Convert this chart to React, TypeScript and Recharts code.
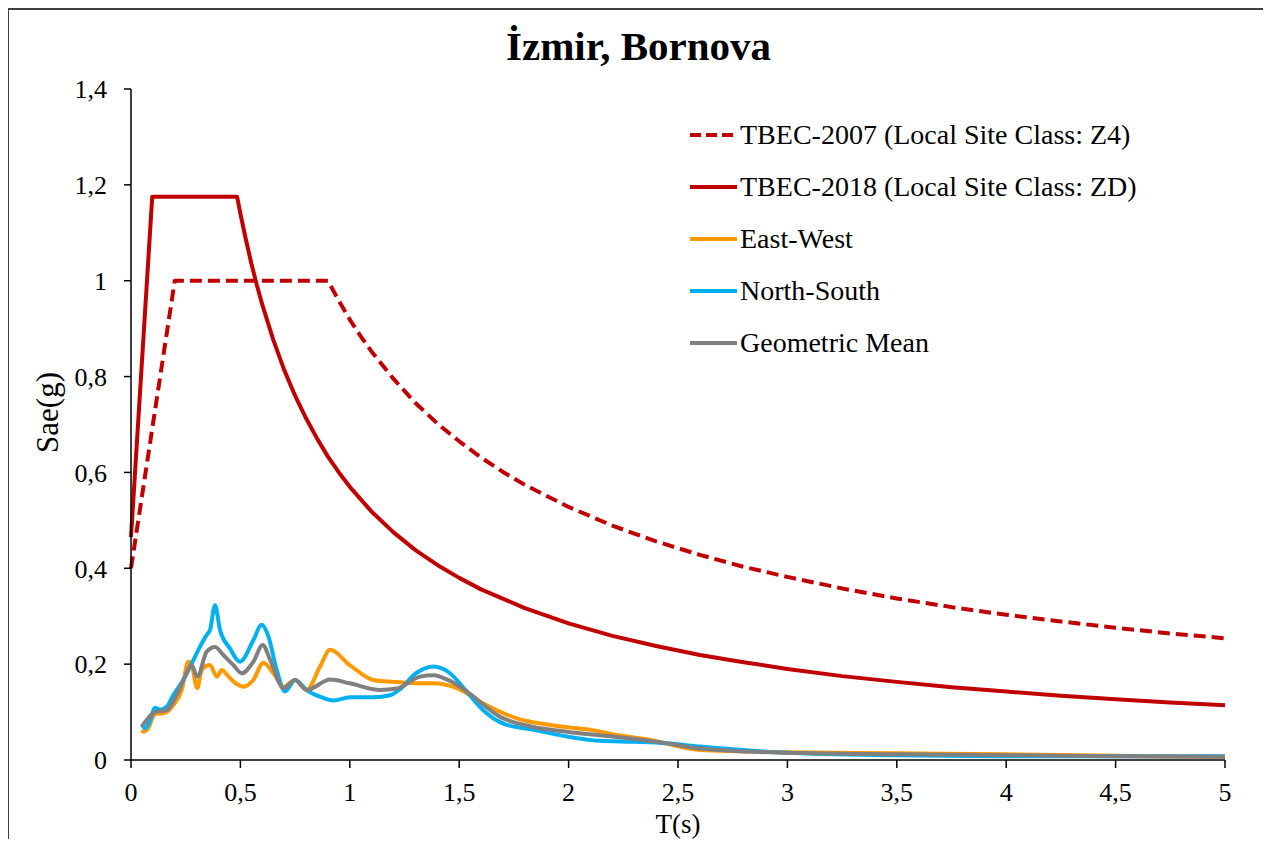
import { LineChart, Line, XAxis, YAxis, Legend } from "recharts";

const FONT = '"Liberation Serif", "Times New Roman", serif';

// tick values
const xTicks = [0, 0.5, 1, 1.5, 2, 2.5, 3, 3.5, 4, 4.5, 5];
const yTicks = [0, 0.2, 0.4, 0.6, 0.8, 1, 1.2, 1.4];

// TBEC-2007, local site class Z4 (design spectrum)
const tbec2007T = [0, 0.2, 0.9, 0.95, 1.0, 1.05, 1.1, 1.2, 1.3, 1.4, 1.5, 1.6, 1.7, 1.8, 2.0, 2.2, 2.4, 2.6, 2.8, 3.0, 3.25, 3.5, 3.75, 4.0, 4.25, 4.5, 4.75, 5];
const tbec2007Sae = [0.4, 1.0, 1.0, 0.958, 0.919, 0.884, 0.852, 0.795, 0.745, 0.702, 0.665, 0.631, 0.601, 0.574, 0.528, 0.489, 0.456, 0.428, 0.403, 0.382, 0.358, 0.337, 0.319, 0.303, 0.289, 0.276, 0.264, 0.254];

// TBEC-2018, local site class ZD (design spectrum)
const tbec2018T = [0, 0.097, 0.485, 0.5, 0.525, 0.55, 0.575, 0.6, 0.65, 0.7, 0.75, 0.8, 0.85, 0.9, 0.95, 1.0, 1.1, 1.2, 1.3, 1.4, 1.5, 1.6, 1.8, 2.0, 2.2, 2.4, 2.6, 2.8, 3.0, 3.25, 3.5, 3.75, 4.0, 4.25, 4.5, 4.75, 5];
const tbec2018Sae = [0.465, 1.175, 1.175, 1.14, 1.086, 1.036, 0.991, 0.95, 0.877, 0.814, 0.76, 0.713, 0.671, 0.633, 0.6, 0.57, 0.518, 0.475, 0.438, 0.407, 0.38, 0.356, 0.317, 0.285, 0.259, 0.238, 0.219, 0.204, 0.19, 0.175, 0.163, 0.152, 0.143, 0.134, 0.127, 0.12, 0.114];

// recorded spectra
const ewT = [0.05, 0.056, 0.079, 0.1, 0.117, 0.14, 0.163, 0.194, 0.232, 0.262, 0.277, 0.303, 0.323, 0.361, 0.392, 0.415, 0.438, 0.468, 0.513, 0.559, 0.605, 0.651, 0.697, 0.75, 0.803, 0.864, 0.91, 1.0, 1.107, 1.199, 1.321, 1.382, 1.489, 1.61, 1.763, 1.915, 2.098, 2.22, 2.372, 2.6, 3, 3.5, 4, 4.5, 5];
const ewSae = [0.062, 0.059, 0.066, 0.09, 0.097, 0.097, 0.1, 0.115, 0.146, 0.205, 0.198, 0.15, 0.188, 0.198, 0.174, 0.188, 0.178, 0.164, 0.153, 0.167, 0.203, 0.181, 0.153, 0.167, 0.146, 0.195, 0.23, 0.198, 0.167, 0.163, 0.16, 0.16, 0.15, 0.118, 0.087, 0.073, 0.063, 0.052, 0.042, 0.021, 0.016, 0.014, 0.012, 0.009, 0.006];

const nsT = [0.05, 0.064, 0.085, 0.11, 0.133, 0.163, 0.194, 0.239, 0.277, 0.315, 0.346, 0.361, 0.384, 0.407, 0.452, 0.498, 0.559, 0.597, 0.628, 0.666, 0.704, 0.75, 0.803, 0.864, 0.925, 1.0, 1.107, 1.184, 1.23, 1.3, 1.382, 1.458, 1.534, 1.61, 1.702, 1.839, 1.991, 2.143, 2.3, 2.448, 2.6, 3, 3.5, 4, 4.5, 5];
const nsSae = [0.075, 0.066, 0.08, 0.109, 0.105, 0.111, 0.136, 0.167, 0.201, 0.236, 0.261, 0.271, 0.323, 0.271, 0.233, 0.205, 0.25, 0.282, 0.258, 0.188, 0.143, 0.167, 0.146, 0.132, 0.124, 0.131, 0.131, 0.135, 0.148, 0.18, 0.195, 0.181, 0.143, 0.104, 0.076, 0.063, 0.049, 0.04, 0.038, 0.035, 0.028, 0.015, 0.01, 0.008, 0.008, 0.008];

const gmT = [0.05, 0.11, 0.163, 0.201, 0.247, 0.277, 0.303, 0.346, 0.384, 0.422, 0.468, 0.506, 0.559, 0.602, 0.636, 0.697, 0.75, 0.803, 0.91, 1.0, 1.138, 1.214, 1.321, 1.382, 1.458, 1.534, 1.687, 1.839, 1.991, 2.22, 2.448, 2.6, 3, 3.5, 4, 4.5, 5];
const gmSae = [0.07, 0.1, 0.104, 0.129, 0.174, 0.198, 0.174, 0.226, 0.236, 0.219, 0.198, 0.181, 0.205, 0.24, 0.209, 0.15, 0.167, 0.146, 0.168, 0.16, 0.146, 0.149, 0.174, 0.177, 0.165, 0.143, 0.09, 0.069, 0.059, 0.048, 0.035, 0.024, 0.015, 0.012, 0.01, 0.008, 0.007];

const toPoints = (t: number[], s: number[]) => t.map((T, i) => ({ T, Sae: s[i] }));

const series = [
  { name: "TBEC-2007 (Local Site Class: Z4)", data: toPoints(tbec2007T, tbec2007Sae), color: "#C00000", dash: "12 6", curve: "linear" },
  { name: "TBEC-2018 (Local Site Class: ZD)", data: toPoints(tbec2018T, tbec2018Sae), color: "#C00000", dash: undefined, curve: "linear" },
  { name: "East-West", data: toPoints(ewT, ewSae), color: "#FF9900", dash: undefined, curve: "monotone" },
  { name: "North-South", data: toPoints(nsT, nsSae), color: "#00B0F0", dash: undefined, curve: "monotone" },
  { name: "Geometric Mean", data: toPoints(gmT, gmSae), color: "#808080", dash: undefined, curve: "monotone" },
];

const comma = (v: number) => String(v).replace(".", ",");

function LegendBox() {
  return (
    <div style={{ fontFamily: FONT, fontSize: 28, color: "#000" }}>
      {series.map((s) => (
        <div key={s.name} style={{ height: 52, display: "flex", alignItems: "center" }}>
          <svg width={50} height={10} style={{ marginRight: 1 }}>
            <line x1={1} y1={5} x2={48} y2={5} stroke={s.color} strokeWidth={4} strokeDasharray={s.dash ? "11 5" : undefined} />
          </svg>
          <span style={{ whiteSpace: "nowrap" }}>{s.name}</span>
        </div>
      ))}
    </div>
  );
}

function YTitle(props: any) {
  const vb = props.viewBox;
  const cx = vb.x - 4;
  const cy = vb.y + vb.height / 2 - 12;
  return (
    <text
      x={cx}
      y={cy}
      transform={`rotate(-90 ${cx} ${cy})`}
      textAnchor="middle"
      dominantBaseline="central"
      fontFamily={FONT}
      fontSize={31}
      fill="#000"
    >
      Sae(g)
    </text>
  );
}

export default function App() {
  const tick = { fontSize: 26, fill: "#000", fontFamily: FONT };
  return (
    <div style={{ width: 1263, height: 839, overflow: "hidden", marginLeft: -1, marginBottom: -8 }}>
      <div
        style={{
          position: "relative",
          boxSizing: "border-box",
          width: 1263,
          height: 860,
          border: "2px solid #404040",
          background: "#fff",
        }}
      >
        <div
          style={{
            position: "absolute",
            top: 16,
            left: 0,
            width: "100%",
            textAlign: "center",
            fontFamily: FONT,
            fontWeight: "bold",
            fontSize: 41,
            lineHeight: "41px",
            color: "#000",
          }}
        >
          İzmir, Bornova
        </div>
        <LineChart width={1259} height={850} margin={{ top: 79, right: 43, left: 42, bottom: 10 }}>
          <XAxis
            type="number"
            dataKey="T"
            domain={[0, 5]}
            ticks={xTicks}
            tickFormatter={comma}
            tick={tick}
            tickSize={8}
            tickMargin={15}
            height={90}
            axisLine={{ stroke: "#000", strokeWidth: 1.5 }}
            tickLine={{ stroke: "#000", strokeWidth: 1.5 }}
            allowDuplicatedCategory={false}
            label={{ value: "T(s)", position: "insideBottom", offset: 17, style: { fontSize: 27, fill: "#000", fontFamily: FONT } }}
          />
          <YAxis
            type="number"
            domain={[0, 1.4]}
            ticks={yTicks}
            tickFormatter={comma}
            tick={tick}
            tickSize={7}
            tickMargin={17}
            width={80}
            axisLine={{ stroke: "#000", strokeWidth: 1.5 }}
            tickLine={{ stroke: "#000", strokeWidth: 1.5 }}
            label={<YTitle />}
          />
          <Legend
            layout="vertical"
            align="center"
            verticalAlign="middle"
            content={() => <LegendBox />}
            wrapperStyle={{ top: 99, left: 680, width: 500 }}
          />
          {series.map((s) => (
            <Line
              key={s.name}
              data={s.data}
              dataKey="Sae"
              name={s.name}
              type={s.curve as any}
              stroke={s.color}
              strokeWidth={4}
              strokeDasharray={s.dash}
              strokeLinejoin="round"
              dot={false}
              activeDot={false}
              isAnimationActive={false}
            />
          ))}
        </LineChart>
      </div>
    </div>
  );
}
